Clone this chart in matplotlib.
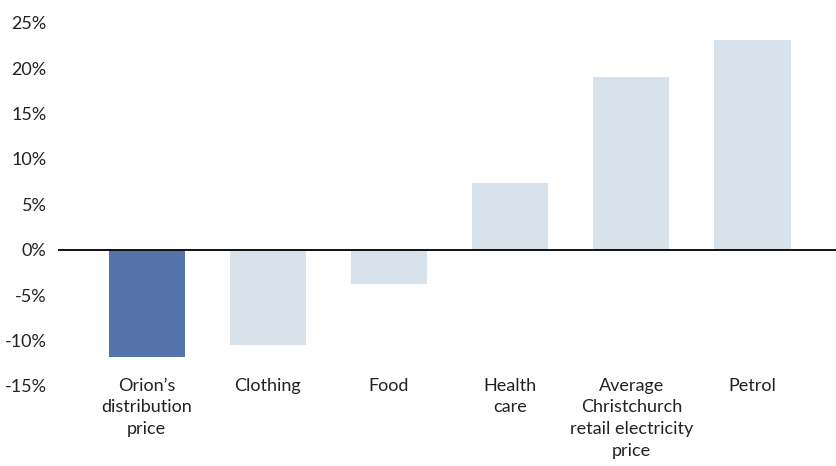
import matplotlib.pyplot as plt
from matplotlib.ticker import FuncFormatter

categorias = ["Orion’s\ndistribution\nprice", "Clothing", "Food", "Health\ncare",
              "Average\nChristchurch\nretail electricity\nprice", "Petrol"]
valores = [-11.8, -10.5, -3.8, 7.4, 19.0, 23.1]
colores = ["#5573ab", "#d8e2eb", "#d8e2eb", "#d8e2eb", "#d8e2eb", "#d8e2eb"]

plt.rcParams['font.family'] = ['Lato', 'DejaVu Sans']

fig = plt.figure(figsize=(8.36, 4.66), dpi=100)
ax = fig.add_axes([0.069, 0.172, 0.931, 0.779])

x = range(len(categorias))
ax.bar(x, valores, width=0.63, color=colores)
ax.axhline(0, color="black", linewidth=1.3)

ax.set_xlim(-0.735, 5.69)
ax.set_ylim(-15, 25)
ax.set_yticks(range(-15, 26, 5))
ax.yaxis.set_major_formatter(FuncFormatter(lambda v, p: f"{int(v)}%"))
ax.set_xticks(list(x))
ax.set_xticklabels(categorias, fontsize=13, color="#222222", linespacing=1.45)

for s in ax.spines.values():
    s.set_visible(False)
ax.tick_params(axis="y", length=0, pad=8, labelsize=13, labelcolor="#222222")
ax.tick_params(axis="x", length=0, pad=-6)

fig.savefig("out.png")
